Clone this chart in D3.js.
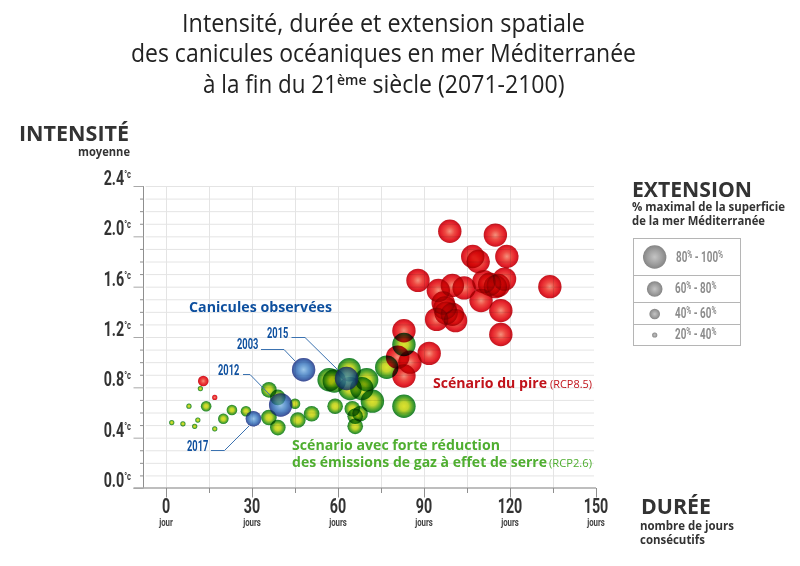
<!DOCTYPE html>
<html>
<head>
<meta charset="utf-8">
<script src="https://cdn.jsdelivr.net/npm/d3@7"></script>
<style>
  html, body { margin: 0; padding: 0; background: #fff; }
  svg { display: block; }
  text { font-family: "Open Sans", sans-serif; }
  .narrow { font-family: Roboto, sans-serif; font-weight: 700; }
</style>
</head>
<body>
<svg id="chart" width="800" height="566"></svg>
<script>
// extension class: 0 = 20-40%, 1 = 40-60%, 2 = 60-80%, 3 = 80-100%
const greenDays = [2, 5.9, 11.1, 10, 17, 8, 12, 14, 20, 23, 27.9, 35.9, 45, 35.9, 39, 46, 50.8, 59, 39, 56.9, 58.7, 63.9, 70, 64.2, 68.3, 72, 65, 67.7, 66, 66, 77, 83, 83];
const greenIntensity = [0.52, 0.51, 0.54, 0.49, 0.47, 0.65, 0.79, 0.65, 0.55, 0.62, 0.61, 0.78, 0.67, 0.56, 0.48, 0.54, 0.59, 0.65, 0.72, 0.86, 0.85, 0.94, 0.86, 0.79, 0.79, 0.69, 0.63, 0.59, 0.57, 0.49, 0.96, 1.14, 0.65];
const greenExtent = [0, 0, 0, 0, 0, 0, 0, 1, 1, 1, 1, 2, 1, 2, 2, 2, 2, 2, 2, 3, 3, 3, 3, 3, 3, 3, 2, 2, 2, 2, 3, 3, 3];

const redDays = [13, 17, 83, 80.8, 85.1, 83, 91.8, 99, 114.9, 107, 108.9, 118.9, 87.9, 95, 99.9, 104, 110.9, 118.1, 112.9, 115.9, 114.9, 109.9, 116.8, 133.9, 116.8, 94.4, 96.7, 97.3, 97.7, 101, 99.9];
const redIntensity = [0.85, 0.72, 1.25, 1.04, 1.00, 0.89, 1.07, 2.04, 2.01, 1.84, 1.80, 1.84, 1.65, 1.57, 1.61, 1.59, 1.64, 1.66, 1.62, 1.61, 1.60, 1.49, 1.41, 1.60, 1.22, 1.34, 1.47, 1.43, 1.39, 1.33, 1.38];
const redExtent = [1, 0, 3, 3, 3, 3, 3, 3, 3, 3, 3, 3, 3, 3, 3, 3, 3, 3, 3, 3, 3, 3, 3, 3, 3, 3, 3, 3, 3, 3, 3];

const obsYears = ["2003", "2015", "2012", "2017"];
const obsDays = [48, 63, 40, 30.5];
const obsIntensity = [0.94, 0.87, 0.66, 0.55];
const obsExtent = [3, 3, 3, 2];

const xTicks = d3.range(0, 151, 15);
const xLabels = [0, 30, 60, 90, 120, 150];
const yTicks = d3.range(0, 25).map(d => d / 10);
const yLabels = [0, 0.4, 0.8, 1.2, 1.6, 2.0, 2.4];
const legendLabels = ["80", "60", "40", "20"];
const legendUpper = ["100", "80", "60", "40"];

const svg = d3.select("#chart");
const x = d3.scaleLinear().domain([0, 150]).range([166, 596]);
const y = d3.scaleLinear().domain([0, 2.4]).range([488, 186]);
const r = d3.scaleOrdinal().domain([0, 1, 2, 3]).range([2.6, 5.3, 7.8, 11.7]);

const left = 143.5, axisColor = "#8f8f8f", gridColor = "#e4e4e4", dark = "#333333";

// gradients
const defs = svg.append("defs");
function addGradient(id, stops) {
    const g = defs.append("radialGradient").attr("id", id);
    stops.forEach(s => g.append("stop").attr("offset", s[0]).attr("stop-color", s[1]));
}
addGradient("red", [[0, "#f4917c"], [0.4, "#ee4a42"], [0.78, "#e4202a"], [1, "#c2161f"]]);
addGradient("green", [[0, "#dde22e"], [0.38, "#c3d42e"], [0.7, "#62ad2c"], [1, "#1a8232"]]);
addGradient("blue", [[0, "#a6cfee"], [0.5, "#5f9bd4"], [0.82, "#3a6fb8"], [1, "#36489c"]]);
addGradient("grey", [[0, "#c4c4c4"], [0.6, "#a0a0a0"], [1, "#858585"]]);

// narrow: no condensed face is installed, so squeeze Roboto horizontally
function label(parent, str, px, py, o) {
    const t = parent.append("text")
        .attr("font-size", o.size).attr("fill", o.fill || dark)
        .attr("text-anchor", o.anchor || "start")
        .text(str);
    if (o.narrow) {
        t.attr("class", "narrow").attr("transform", `translate(${px},${py}) scale(${o.sx || 0.68},1)`);
    } else {
        t.attr("x", px).attr("y", py).attr("font-weight", o.weight || "bold");
    }
    if (o.len) t.attr("textLength", o.len).attr("lengthAdjust", "spacingAndGlyphs");
    return t;
}

// grid
const gridY = svg.append("g").attr("transform", `translate(${left},0)`)
    .call(d3.axisRight(y).tickValues(yTicks.slice(1)).tickSize(596 - left - 2).tickFormat(""));
gridY.select(".domain").remove();
gridY.selectAll("line").attr("stroke", gridColor).attr("x1", 2);

const gridX = svg.append("g").attr("transform", "translate(0,186)")
    .call(d3.axisBottom(x).tickValues(xTicks.slice(0, -1)).tickSize(302).tickFormat(""));
gridX.select(".domain").remove();
gridX.selectAll("line").attr("stroke", gridColor);

// y axis
const yAxis = svg.append("g").attr("transform", `translate(${left},0)`)
    .call(d3.axisLeft(y).tickValues(yTicks).tickSize(3.5).tickFormat(""));
yAxis.select(".domain").attr("stroke", axisColor).attr("d", "M0,186V488");
yAxis.selectAll("line").attr("stroke", axisColor);
yAxis.selectAll(".tick").filter(d => yLabels.includes(d)).select("line")
    .attr("x2", -10).attr("stroke", "#a8a8a8");

// x axis
const xAxis = svg.append("g").attr("transform", "translate(0,488)")
    .call(d3.axisBottom(x).tickValues(xTicks).tickSize(5).tickFormat(""));
xAxis.select(".domain").attr("stroke", "#a8a8a8").attr("stroke-width", 1.5).attr("d", `M${left - 10},0H596`);
xAxis.selectAll("line").attr("stroke", axisColor);
xAxis.selectAll(".tick").filter(d => xLabels.includes(d)).select("line").attr("y2", 9.5);

// axis labels
yLabels.forEach(v => {
    const t = label(svg, "", 131, y(v) - 1, { size: 21, anchor: "end", narrow: true });
    t.append("tspan").text(d3.format(".1f")(v));
    t.append("tspan").attr("font-size", 11).attr("dy", -7).text("°c");
});
xLabels.forEach(v => {
    label(svg, String(v), x(v), 513, { size: 21, anchor: "middle", narrow: true });
    label(svg, v === 0 ? "jour" : "jours", x(v), 526, { size: 11.5, anchor: "middle", narrow: true, fill: "#444" });
});

// titles
const titleLines = ["Intensité, durée et extension spatiale", "des canicules océaniques en mer Méditerranée"];
const title = svg.append("g");
label(title, titleLines[0], 182, 32, { size: 26, weight: "normal", fill: "#222", len: 403 });
label(title, titleLines[1], 131, 62, { size: 26, weight: "normal", fill: "#222", len: 505 });
const t3 = label(title, "", 203, 93, { size: 26, weight: "normal", fill: "#222" });
t3.append("tspan").attr("textLength", 134).attr("lengthAdjust", "spacingAndGlyphs").text("à la fin du 21");
t3.append("tspan").attr("font-size", 14).attr("font-weight", 600).attr("dy", -8).text("ème");
t3.append("tspan").attr("dy", 8).attr("textLength", 198).attr("lengthAdjust", "spacingAndGlyphs").text(" siècle (2071-2100)");

label(svg, "INTENSITÉ", 19, 141, { size: 22, len: 110 });
label(svg, "moyenne", 78, 156, { size: 11.5, len: 52 });
label(svg, "EXTENSION", 632, 197, { size: 22, len: 120 });
label(svg, "% maximal de la superficie", 632, 211, { size: 11.5, len: 153 });
label(svg, "de la mer Méditerranée", 632, 225, { size: 11.5, len: 133 });
label(svg, "DURÉE", 641, 514, { size: 22, len: 70 });
label(svg, "nombre de jours", 640, 530, { size: 11.5, len: 94 });
label(svg, "consécutifs", 640, 544, { size: 11.5, len: 65 });

// legend table
const legendRows = [238.5, 275.5, 302.5, 324.5, 345.5];
const legendText = [258, 289, 314, 335];
const legend = svg.append("g");
legend.append("rect").attr("x", 633.5).attr("y", legendRows[0]).attr("width", 107)
    .attr("height", legendRows[4] - legendRows[0]).attr("fill", "none").attr("stroke", "#b5b5b5");
legendRows.slice(1, 4).forEach(v => {
    legend.append("line").attr("x1", 633.5).attr("x2", 740.5).attr("y1", v).attr("y2", v).attr("stroke", "#b5b5b5");
});
[3, 2, 1, 0].forEach((c, i) => {
    legend.append("circle").attr("cx", 654.7).attr("cy", legendText[i] - (i === 0 ? 1 : 0))
        .attr("r", r(c)).attr("fill", "url(#grey)");
    const t = label(legend, "", i === 0 ? 676 : 675, legendText[i] + 4, { size: 14.5, narrow: true, fill: "#8c8c8c" });
    t.append("tspan").text(legendLabels[i]);
    t.append("tspan").attr("font-size", 10).attr("dy", -4).text("%");
    t.append("tspan").attr("dy", 4).text(" - " + legendUpper[i]);
    t.append("tspan").attr("font-size", 10).attr("dy", -4).text("%");
});

// bubbles
function bubbles(days, vals, ext, fill, blend, opacity) {
    svg.append("g").selectAll("circle")
        .data(days.map((d, i) => ({ d, v: vals[i], e: ext[i] })))
        .join("circle")
        .attr("cx", p => x(p.d))
        .attr("cy", p => y(p.v))
        .attr("r", p => r(p.e))
        .attr("fill", fill)
        .attr("opacity", opacity)
        .style("mix-blend-mode", blend);
}
bubbles(greenDays, greenIntensity, greenExtent, "url(#green)", "multiply", 1);
bubbles(redDays, redIntensity, redExtent, "url(#red)", "multiply", 1);

// observed events: label + leader line
const blue = "#0d4f9e";
const leaders = [
    [[261, 349.5], [284, 349.5], [295, 361]],
    [[291.5, 337.5], [305, 337.5], [338, 370]],
    [[243, 374.5], [250, 374.5], [270, 395]],
    [[211, 450.5], [224.5, 450.5], [249, 426]]
];
const yearPos = [[237, 349], [267, 338], [218, 375], [187, 451]];
const lineGen = d3.line();
leaders.forEach(l => {
    svg.append("path").attr("d", lineGen(l)).attr("fill", "none").attr("stroke", "#3b72b0").attr("stroke-width", 1);
});
// normal layer keeps the blue, multiply layer lets the green underneath darken it
bubbles(obsDays, obsIntensity, obsExtent, "url(#blue)", "normal", 0.6);
bubbles(obsDays, obsIntensity, obsExtent, "url(#blue)", "multiply", 0.65);
obsYears.forEach((yr, i) => {
    label(svg, yr, yearPos[i][0], yearPos[i][1], { size: 15, narrow: true, fill: blue, sx: 0.62 });
});

// annotations
label(svg, "Canicules observées", 189, 312, { size: 14, fill: blue, len: 143 });
label(svg, "Scénario du pire", 433, 388, { size: 13.5, fill: "#c1121a", len: 114 });
label(svg, "(RCP8.5)", 550, 388, { size: 10.5, weight: "normal", fill: "#c1121a", len: 42 });
label(svg, "Scénario avec forte réduction", 292, 450, { size: 14.5, fill: "#4fae30", len: 208 });
label(svg, "des émissions de gaz à effet de serre", 292, 467, { size: 14.5, fill: "#4fae30", len: 255 });
label(svg, "(RCP2.6)", 549, 467, { size: 10.5, weight: "normal", fill: "#4fae30", len: 43 });
</script>
</body>
</html>
